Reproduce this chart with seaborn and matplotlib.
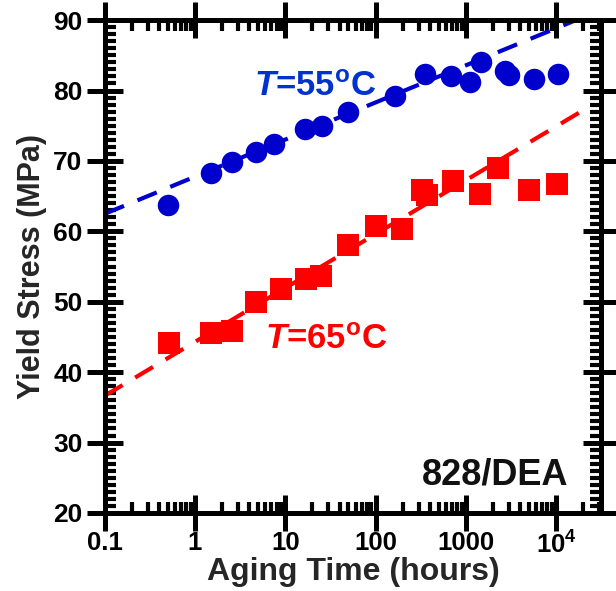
import numpy as np
import pandas as pd
import matplotlib
matplotlib.use("Agg")
import matplotlib.pyplot as plt
import seaborn as sns
from matplotlib.ticker import FixedLocator, FixedFormatter, LogLocator, MultipleLocator, NullFormatter

# ---- data ----
t55 = [0.5, 1.5, 2.6, 4.7, 7.5, 16.7, 25.8, 50, 164, 351, 694, 1100, 1466, 2700, 3000, 5760, 10500]
s55 = [63.8, 68.3, 69.9, 71.2, 72.4, 74.5, 74.9, 76.9, 79.2, 82.3, 82.1, 81.2, 84.1, 82.8, 82.2, 81.6, 82.3]
t65 = [0.51, 1.52, 2.6, 4.7, 8.9, 17.1, 25, 49.5, 100, 196, 330, 370, 728, 1430, 2290, 5070, 10300]
s65 = [44.1, 45.5, 45.8, 49.9, 51.8, 53.3, 53.6, 58.1, 60.8, 60.4, 65.9, 65.1, 67.2, 65.35, 69.05, 65.9, 66.7]
# trend lines: stress = a + b*log10(t)
fit55 = (67.76, 5.27)
fit65 = (44.3, 7.65)
fit_range = (0.1, 10**4.35)

xticks = [0.1, 1, 10, 100, 1000, 1e4]
xticklabels = ["0.1", "1", "10", "100", "1000", r"$10^4$"]
yticks = [20, 30, 40, 50, 60, 70, 80, 90]

BLUE = "#0000cc"
RED = "#ff0000"

sns.set_theme(style="white")
plt.rcParams["font.family"] = ["Liberation Sans", "DejaVu Sans"]
plt.rcParams["font.weight"] = "bold"
plt.rcParams["mathtext.fontset"] = "custom"
plt.rcParams["mathtext.rm"] = "Liberation Sans:bold"
plt.rcParams["mathtext.it"] = "Liberation Sans:italic:bold"
plt.rcParams["mathtext.bf"] = "Liberation Sans:bold"

fig = plt.figure(figsize=(6.16, 5.91), dpi=100)
ax = fig.add_axes([0.170, 0.132, 0.806, 0.834])

df55 = pd.DataFrame({"t": t55, "s": s55})
df65 = pd.DataFrame({"t": t65, "s": s65})

tl = np.logspace(np.log10(fit_range[0]), np.log10(fit_range[1]), 200)
line55 = pd.DataFrame({"t": tl, "s": fit55[0] + fit55[1] * np.log10(tl)})
line65 = pd.DataFrame({"t": tl, "s": fit65[0] + fit65[1] * np.log10(tl)})

sns.lineplot(data=line55, x="t", y="s", ax=ax, color=BLUE, lw=3, zorder=2)
sns.lineplot(data=line65, x="t", y="s", ax=ax, color=RED, lw=3, zorder=2)
for ln in ax.lines:
    ln.set_dashes((5, 3.5))

sns.scatterplot(data=df55, x="t", y="s", ax=ax, marker="o", s=240, color=BLUE,
                edgecolor=BLUE, linewidth=0, zorder=3)
sns.scatterplot(data=df65, x="t", y="s", ax=ax, marker="s", s=260, color=RED,
                edgecolor=RED, linewidth=0, zorder=3)

ax.set_xscale("log")
ax.set_xlim(0.1, 10**4.5)
ax.set_ylim(20, 90)

ax.xaxis.set_major_locator(FixedLocator(xticks))
ax.xaxis.set_major_formatter(FixedFormatter(xticklabels))
ax.xaxis.set_minor_locator(LogLocator(base=10, subs=np.arange(2, 10)))
ax.xaxis.set_minor_formatter(NullFormatter())
ax.yaxis.set_major_locator(FixedLocator(yticks))
ax.yaxis.set_minor_locator(MultipleLocator(1))

for sp in ax.spines.values():
    sp.set_linewidth(3.6)
    sp.set_color("black")

ax.tick_params(which="major", direction="inout", length=26, width=3.6,
               left=True, bottom=True, top=True, right=True, colors="black")
ax.tick_params(which="minor", direction="in", length=8, width=3,
               left=True, bottom=True, top=True, right=True, colors="black")
ax.tick_params(axis="x", which="major", labelsize=18.5, pad=0)
ax.tick_params(axis="y", which="major", labelsize=19, pad=3)
for lab in ax.get_xticklabels() + ax.get_yticklabels():
    lab.set_fontweight("bold")

ax.set_xlabel("Aging Time (hours)", fontsize=23, fontweight="bold")
ax.set_ylabel("Yield Stress (MPa)", fontsize=22, fontweight="bold")
ax.xaxis.set_label_coords(0.5, -0.089)
ax.yaxis.set_label_coords(-0.117, 0.5)

ax.text(0.30, 0.866, r"$\mathit{T}$=55$^{\rm o}$C", transform=ax.transAxes,
        fontsize=25, fontweight="bold", color="#0033cc", ha="left", va="center")
ax.text(0.323, 0.351, r"$\mathit{T}$=65$^{\rm o}$C", transform=ax.transAxes,
        fontsize=25, fontweight="bold", color=RED, ha="left", va="center")
ax.text(0.933, 0.077, "828/DEA", transform=ax.transAxes,
        fontsize=26, fontweight="bold", color="#111111", ha="right", va="center")

fig.savefig("out.png", dpi=100)
